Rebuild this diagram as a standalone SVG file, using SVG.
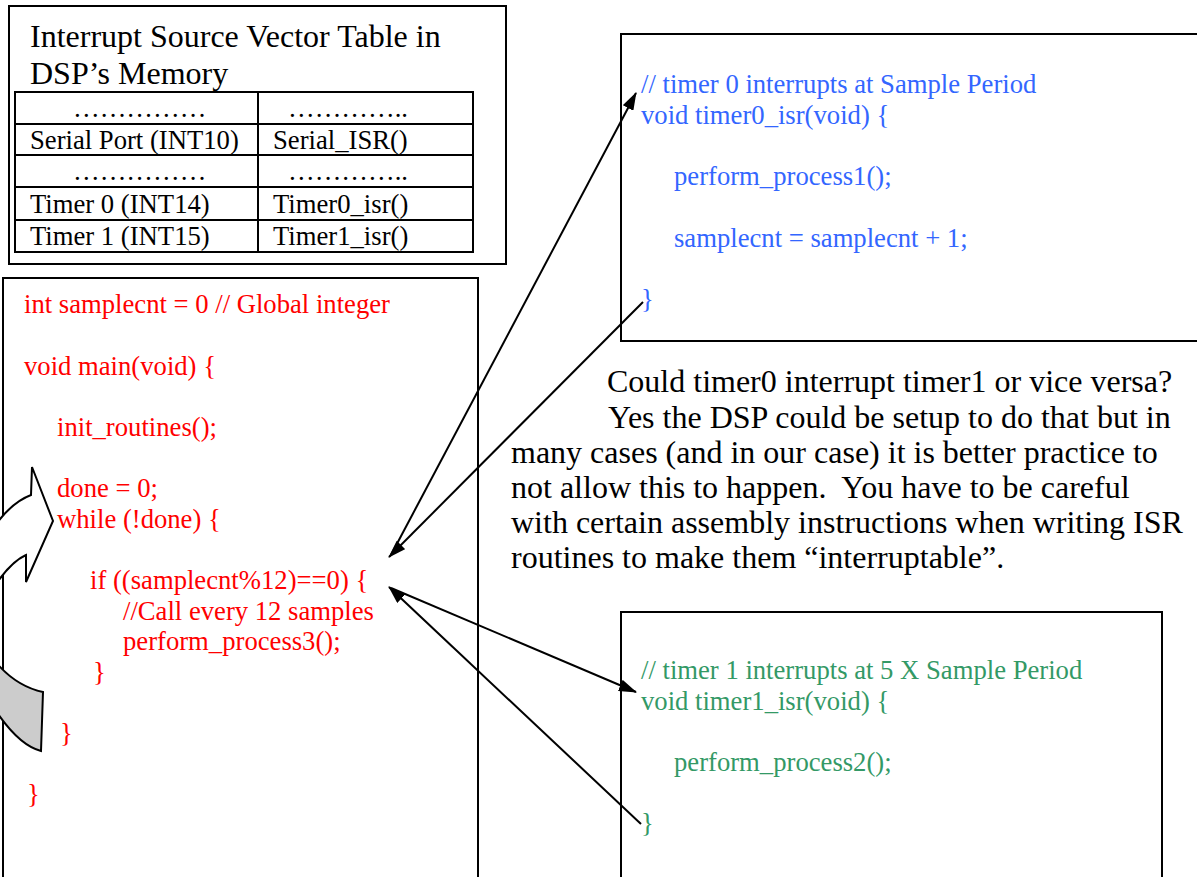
<svg xmlns="http://www.w3.org/2000/svg" width="1197" height="877" viewBox="0 0 1197 877">
<defs>
<marker id="ah" viewBox="0 0 18 12" refX="17" refY="6" markerWidth="18" markerHeight="12" markerUnits="userSpaceOnUse" orient="auto">
<path d="M0,0 L18,6 L0,12 Z" fill="#000"/>
</marker>
</defs>
<style>
text{font-family:"Liberation Serif","Times New Roman",serif;}
.t32{font-size:32px;fill:#000;}
.t26{font-size:26.67px;fill:#000;}
.red{font-size:26.67px;fill:#ff0000;}
.blue{font-size:26.67px;fill:#3366ff;}
.green{font-size:26.67px;fill:#339966;}
.box{fill:#fff;stroke:#000;stroke-width:2;}
.grid{fill:none;stroke:#000;stroke-width:2;}
.conn{fill:none;stroke:#000;stroke-width:2;marker-end:url(#ah);}
</style>
<rect width="1197" height="877" fill="#fff"/>

<g id="vector-table">
<rect class="box" x="9" y="6" width="497" height="258" stroke="#222"/>
<text class="t32" x="30" y="47">Interrupt Source Vector Table in</text>
<text class="t32" x="30" y="84">DSP’s Memory</text>
<rect class="grid" x="15" y="92" width="458" height="160"/>
<line class="grid" x1="258" y1="92" x2="258" y2="252"/>
<line class="grid" x1="15" y1="124" x2="473" y2="124"/>
<line class="grid" x1="15" y1="155" x2="473" y2="155"/>
<line class="grid" x1="15" y1="187" x2="473" y2="187"/>
<line class="grid" x1="15" y1="220" x2="473" y2="220"/>
<text class="t26" x="73" y="117">……………</text>
<text class="t26" x="288" y="117">…………..</text>
<text class="t26" x="30" y="149">Serial Port (INT10)</text>
<text class="t26" x="273" y="149">Serial_ISR()</text>
<text class="t26" x="73" y="180">……………</text>
<text class="t26" x="288" y="180">…………..</text>
<text class="t26" x="30" y="213">Timer 0 (INT14)</text>
<text class="t26" x="273" y="213">Timer0_isr()</text>
<text class="t26" x="30" y="245">Timer 1 (INT15)</text>
<text class="t26" x="273" y="245">Timer1_isr()</text>
</g>

<g id="main-code">
<rect class="box" x="3" y="278" width="475" height="620"/>
<text class="red" x="24" y="313">int samplecnt = 0 // Global integer</text>
<text class="red" x="24" y="375">void main(void) {</text>
<text class="red" x="57" y="436">init_routines();</text>
<text class="red" x="57" y="497">done = 0;</text>
<text class="red" x="57" y="528">while (!done) {</text>
<text class="red" x="90" y="589">if ((samplecnt%12)==0) {</text>
<text class="red" x="123" y="620">//Call every 12 samples</text>
<text class="red" x="123" y="650">perform_process3();</text>
<text class="red" x="93" y="681">}</text>
<text class="red" x="60" y="742">}</text>
<text class="red" x="27" y="803">}</text>
</g>

<g id="loop-arrow">
<path d="M43,692 L41,751 Q18,745 -6,708 L-6,660 Q15,686 43,692 Z" fill="#cccccc" stroke="#000" stroke-width="2"/>
<path d="M-8,530 Q10,503 31,495 L32,467 L53,521 L26,582 L26,555 Q10,562 -8,590 Z" fill="#fff" stroke="#000" stroke-width="2"/>
</g>

<g id="timer0-isr">
<rect class="box" x="621" y="34" width="590" height="307"/>
<text class="blue" x="641" y="93">// timer 0 interrupts at Sample Period</text>
<text class="blue" x="641" y="124">void timer0_isr(void) {</text>
<text class="blue" x="674" y="185">perform_process1();</text>
<text class="blue" x="674" y="247">samplecnt = samplecnt + 1;</text>
<text class="blue" x="641" y="308">}</text>
</g>

<g id="timer1-isr">
<rect class="box" x="621" y="612" width="541" height="290"/>
<text class="green" x="641" y="679">// timer 1 interrupts at 5 X Sample Period</text>
<text class="green" x="641" y="710">void timer1_isr(void) {</text>
<text class="green" x="674" y="771">perform_process2();</text>
<text class="green" x="641" y="832">}</text>
</g>

<g id="note">
<text class="t32" x="607" y="392">Could timer0 interrupt timer1 or vice versa?</text>
<text class="t32" x="608" y="428">Yes the DSP could be setup to do that but in</text>
<text class="t32" x="511" y="463">many cases (and in our case) it is better practice to</text>
<text class="t32" x="511" y="498" xml:space="preserve">not allow this to happen.  You have to be careful</text>
<text class="t32" x="511" y="533">with certain assembly instructions when writing ISR</text>
<text class="t32" x="511" y="568">routines to make them “interruptable”.</text>
</g>

<g id="connectors">
<line class="conn" x1="391" y1="555" x2="636" y2="93"/>
<line class="conn" x1="643" y1="302" x2="389" y2="557"/>
<line class="conn" x1="391" y1="588" x2="636" y2="692"/>
<line class="conn" x1="641" y1="824" x2="389" y2="587"/>
</g>
</svg>
